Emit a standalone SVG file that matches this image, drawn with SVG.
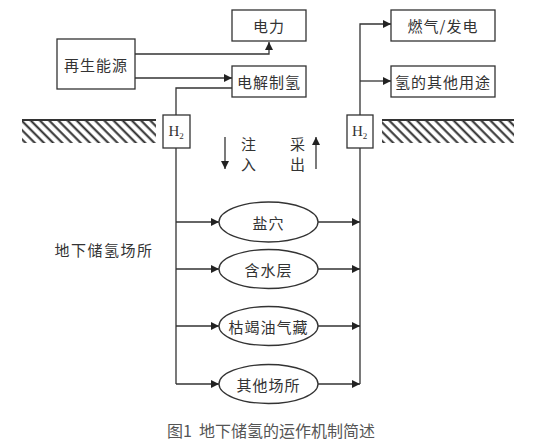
<svg xmlns="http://www.w3.org/2000/svg" width="560" height="442" viewBox="0 0 560 442">
<style>
.box{fill:#fff;stroke:#333;stroke-width:1.3}
.ln{fill:none;stroke:#333;stroke-width:1.3}
.t{font-family:"Noto Sans CJK SC","Noto Sans",sans-serif;font-size:15px;fill:#333;text-anchor:middle;dominant-baseline:central;letter-spacing:1px}
.h{font-family:"Liberation Serif",serif;font-size:15px;fill:#333}
.cap{font-family:"Noto Sans CJK SC","Noto Sans",sans-serif;font-size:16px;fill:#555;text-anchor:middle;dominant-baseline:central}
</style>
<defs>
<marker id="ar" viewBox="0 0 10 10" refX="10" refY="5" markerWidth="8" markerHeight="8" markerUnits="userSpaceOnUse" orient="auto">
<path d="M0,0L10,5L0,10z" fill="#222"/>
</marker>
<pattern id="hatch" width="6.5" height="6" patternUnits="userSpaceOnUse" patternTransform="rotate(-45)">
<line x1="1.5" y1="0" x2="1.5" y2="6" stroke="#2a2a2a" stroke-width="2"/>
</pattern>
</defs>
<rect width="560" height="442" fill="#fff"/>

<g id="ground">
<rect x="22" y="121" width="134" height="22" fill="url(#hatch)"/>
<line x1="22" y1="120" x2="156" y2="120" stroke="#333" stroke-width="1.8"/>
<rect x="382" y="121" width="132" height="22" fill="url(#hatch)"/>
<line x1="382" y1="120" x2="514" y2="120" stroke="#333" stroke-width="1.8"/>
</g>

<g id="connectors">
<path class="ln" d="M135,54H269V42" marker-end="url(#ar)"/>
<path class="ln" d="M135,78H232" marker-end="url(#ar)"/>
<path class="ln" d="M232,88H176V384"/>
<path class="ln" d="M176,222H219" marker-end="url(#ar)"/>
<path class="ln" d="M176,269H219" marker-end="url(#ar)"/>
<path class="ln" d="M176,326H219" marker-end="url(#ar)"/>
<path class="ln" d="M176,384H219" marker-end="url(#ar)"/>
<path class="ln" d="M318,222H360" marker-end="url(#ar)"/>
<path class="ln" d="M318,269H360" marker-end="url(#ar)"/>
<path class="ln" d="M318,326H360" marker-end="url(#ar)"/>
<path class="ln" d="M318,384H360" marker-end="url(#ar)"/>
<path class="ln" d="M360,384V24H391" marker-end="url(#ar)"/>
<path class="ln" d="M360,81H391" marker-end="url(#ar)"/>
<path class="ln" d="M225,137V169" marker-end="url(#ar)"/>
<path class="ln" d="M316,169V137" marker-end="url(#ar)"/>
</g>

<g id="n-power"><rect class="box" x="232" y="10" width="74" height="31"/><text class="t" x="269" y="25.5">电力</text></g>
<g id="n-renew"><rect class="box" x="57" y="39" width="78" height="50"/><text class="t" x="96" y="64">再生能源</text></g>
<g id="n-elec"><rect class="box" x="232" y="66" width="74" height="31"/><text class="t" x="269" y="81.5">电解制氢</text></g>
<g id="n-gas"><rect class="box" x="391" y="10" width="104" height="31"/><text class="t" x="443" y="25.5">燃气/发电</text></g>
<g id="n-other-use"><rect class="box" x="391" y="66" width="104" height="31"/><text class="t" x="443" y="81.5">氢的其他用途</text></g>

<g id="n-h2-left"><rect class="box" x="163" y="115" width="27" height="33"/><text class="h" x="168.5" y="136">H<tspan font-size="9" dy="3">2</tspan></text></g>
<g id="n-h2-right"><rect class="box" x="347" y="115" width="26" height="33"/><text class="h" x="352" y="136">H<tspan font-size="9" dy="3">2</tspan></text></g>

<g id="n-inject"><text class="t" x="249" y="143">注</text><text class="t" x="249" y="163">入</text></g>
<g id="n-extract"><text class="t" x="298" y="143">采</text><text class="t" x="298" y="163">出</text></g>

<g id="n-salt"><ellipse class="box" cx="268.5" cy="222" rx="49.5" ry="20"/><text class="t" x="268.5" y="222">盐穴</text></g>
<g id="n-aquifer"><ellipse class="box" cx="268.5" cy="269" rx="49.5" ry="19.5"/><text class="t" x="268.5" y="269">含水层</text></g>
<g id="n-depleted"><ellipse class="box" cx="268.5" cy="326" rx="49.5" ry="19.5"/><text class="t" x="268.5" y="326">枯竭油气藏</text></g>
<g id="n-others"><ellipse class="box" cx="268.5" cy="384" rx="49.5" ry="19.5"/><text class="t" x="268.5" y="384">其他场所</text></g>

<g id="n-label"><text class="t" x="104" y="249" style="letter-spacing:1.5px">地下储氢场所</text></g>
<text class="cap" x="271" y="430" xml:space="preserve">图1  地下储氢的运作机制简述</text>
</svg>
